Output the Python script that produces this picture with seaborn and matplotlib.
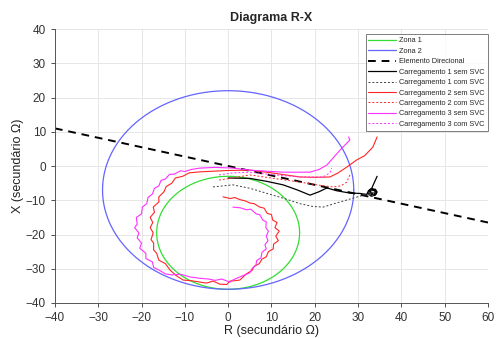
import numpy as np
import pandas as pd
import matplotlib
matplotlib.use("Agg")
import matplotlib.pyplot as plt
import seaborn as sns

# ---- data ----
zona1_center = (0.0, -19.5); zona1_radius = 16.5
zona2_center = (0.0, -7.0); zona2_radius = 29.0
dir_R = [-40, 60]
dir_X = [11.0, -16.5]

c1_sem_R = [0, 5, 9, 12.7, 16, 18.9, 21, 22.8, 25, 28.1, 30.4, 32, 32.4, 33.0, 34.0, 34.4, 34.0, 33.0, 32.3, 32.8, 33.8, 34.2, 33.4, 32.6, 33.2, 34.1, 33.6, 32.8, 33.5, 34.4]
c1_sem_X = [-3.5, -3.6, -4.5, -5.5, -7, -8.5, -7.5, -6.4, -7.2, -7.9, -8, -8.3, -7.2, -6.6, -6.8, -7.6, -8.5, -8.8, -8.0, -7.0, -7.0, -8.0, -8.6, -7.8, -6.9, -7.4, -8.4, -7.5, -5.5, -3.0]

c1_com_R = [-3.5, 1.1, 5, 9, 13, 16.6, 19.5, 21.9, 25, 28.8, 31, 32.5, 33.8, 33.2, 32.2, 33.0, 34.0, 33.4, 32.6]
c1_com_X = [-6.1, -5.5, -6.5, -8, -9.5, -11, -11.8, -12, -10.8, -9.4, -8.6, -8.2, -7.4, -8.9, -8.0, -7.0, -7.9, -8.6, -7.6]

c2_sem_R = [-1.2, 0.5, 1.5, 2.7, 4.0, 5.0, 6.0, 7.3, 8.3, 9.0, 10.0, 10.3, 11.3, 10.8, 11.8, 11.0, 11.6, 10.5, 10.4, 9.3, 8.8, 7.8, 7.2, 6.0, 5.5, 4.2, 2.7, 1.5, 0.4, -0.3, -1.9, -3.5, -5.0, -6.5, -8.5, -10.4, -12.0, -13.4, -14.5, -16.0, -16.5, -17.2, -17.2, -17.8, -17.3, -18.0, -17.4, -18.0, -17.0, -17.3, -16.0, -16.0, -14.8, -14.3, -13.0, -12.2, -10.5, -9.0, -6.5, 0, 5, 10, 16.6, 20, 23.5, 25.4, 27.4, 29.7, 31.5, 33.4, 34.4]
c2_sem_X = [-9.0, -9.5, -9.2, -9.8, -10.2, -10.8, -11.0, -12.0, -12.3, -13.8, -14.2, -15.8, -16.5, -18.0, -19.0, -20.5, -21.8, -22.8, -24.2, -25.0, -26.5, -27.2, -28.5, -29.3, -30.5, -31.5, -33.3, -33.5, -33.6, -34.6, -34.5, -33.6, -34.2, -33.9, -33.5, -33.3, -32.0, -30.4, -28.5, -27.5, -25.5, -24.5, -22.5, -21.5, -19.5, -18.0, -16.5, -15.0, -13.5, -12.0, -10.5, -9.0, -7.5, -6.0, -5.0, -3.5, -3.0, -2.0, -1.7, -1.3, -1.2, -2.0, -3.2, -3.3, -3.2, -2.0, -0.3, 1.8, 3.0, 5.5, 8.5]

c2_com_R = [-2.1, 1, 5, 10, 16.6, 21, 24.2, 26, 27.4, 28.1]
c2_com_X = [-4.1, -3.5, -2.6, -3.5, -4.7, -5.6, -6.1, -5.8, -4.7, -2.6]

c3_sem_R = [1.1, 2.8, 4.3, 5.2, 6.5, 7.3, 8.0, 8.8, 8.7, 9.3, 8.8, 9.2, 8.5, 8.8, 7.8, 7.6, 6.6, 6.4, 5.5, 5.0, 3.8, 2.5, 1.2, 0.4, -1.5, -3.0, -4.5, -6.5, -8.8, -11.0, -13.0, -14.5, -15.8, -17.2, -17.5, -19.0, -19.0, -20.4, -20.0, -21.0, -20.6, -21.6, -21.0, -21.2, -20.0, -19.8, -18.8, -18.5, -17.5, -17.0, -16.0, -15.5, -14.5, -13.5, -12.5, -11.0, -10.0, -8.5, -6.5, -3.0, 1.1, 5, 12.7, 18.9, 21.0, 22.8, 25.8, 28.1, 27.8]
c3_sem_X = [-12.0, -12.2, -12.8, -12.6, -14.0, -14.2, -15.8, -16.3, -18.0, -19.0, -20.5, -21.8, -23.0, -24.2, -25.2, -26.8, -27.6, -29.0, -30.0, -31.2, -31.8, -32.5, -33.2, -33.9, -33.0, -33.4, -33.0, -32.8, -32.4, -31.6, -31.8, -31.5, -30.5, -29.6, -28.0, -27.0, -25.5, -24.0, -22.5, -21.0, -19.5, -18.0, -17.0, -15.0, -14.0, -12.0, -11.0, -9.2, -8.2, -6.5, -5.8, -4.2, -3.8, -2.4, -2.4, -1.4, -1.6, -1.0, -0.6, -0.4, -0.6, -1.2, -1.8, -1.8, -1.0, 0.3, 4.6, 7.6, 8.5]

c3_com_R = [-2.1, 1, 5, 10, 16.6, 21.9, 23.5, 23.9]
c3_com_X = [-2.6, -2.0, -1.8, -2.5, -3.2, -3.2, -2.0, -0.6]

labels = ["Zona 1", "Zona 2", "Elemento Direcional",
          "Carregamento 1 sem SVC", "Carregamento 1 com SVC",
          "Carregamento 2 sem SVC", "Carregamento 2 com SVC",
          "Carregamento 3 sem SVC", "Carregamento 3 com SVC"]

# ---- plot ----
sns.set_style("whitegrid")
plt.rcParams['font.family'] = ['Liberation Sans', 'DejaVu Sans']

fig = plt.figure(figsize=(4.99, 3.38), dpi=100)
ax = fig.add_axes([0.110, 0.1036, 0.868, 0.8104])

def circle(c, r):
    t = np.linspace(0, 2 * np.pi, 361)
    return c[0] + r * np.cos(t), c[1] + r * np.sin(t)

def draw(R, X, color, ls, lw, label):
    df = pd.DataFrame({"R": R, "X": X})
    sns.lineplot(data=df, x="R", y="X", sort=False, estimator=None, ax=ax,
                 color=color, linestyle=ls, linewidth=lw, label=label)

zr, zx = circle(zona1_center, zona1_radius)
draw(zr, zx, "#33dd33", "-", 0.9, labels[0])
zr, zx = circle(zona2_center, zona2_radius)
draw(zr, zx, "#6464ff", "-", 0.9, labels[1])
draw(dir_R, dir_X, "black", (0, (4, 3)), 1.4, labels[2])
draw(c1_sem_R, c1_sem_X, "black", "-", 0.9, labels[3])
draw(c1_com_R, c1_com_X, "#404040", (0, (2, 2)), 0.7, labels[4])
draw(c2_sem_R, c2_sem_X, "#ff2525", "-", 0.8, labels[5])
draw(c2_com_R, c2_com_X, "#ff2525", (0, (2, 2)), 0.7, labels[6])
draw(c3_sem_R, c3_sem_X, "#ff30ff", "-", 0.8, labels[7])
draw(c3_com_R, c3_com_X, "#ff30ff", (0, (2, 2)), 0.7, labels[8])

ax.set_xlim(-40, 60)
ax.set_ylim(-40, 40)
ax.set_xticks(np.arange(-40, 61, 10))
ax.set_yticks(np.arange(-40, 41, 10))
ax.grid(True, color="#e6e6e6", linewidth=0.7)
for s in ["top", "right"]:
    ax.spines[s].set_visible(False)
for s in ["left", "bottom"]:
    ax.spines[s].set_color("#555555")
    ax.spines[s].set_linewidth(0.7)
ax.tick_params(axis="both", labelsize=8.5, colors="#333333", length=3, width=0.6,
               direction="out", left=True, bottom=True)
ax.set_xlabel("R (secundário Ω)", fontsize=9, color="#222222", labelpad=1)
ax.set_ylabel("X (secundário Ω)", fontsize=9, color="#222222", labelpad=1)
ax.set_title("Diagrama R-X", fontsize=9, fontweight="bold", pad=6)

leg = ax.legend(loc="upper right", bbox_to_anchor=(1.008, 0.995), fontsize=5.3,
                frameon=True, fancybox=False, handlelength=3.8, labelspacing=0.45,
                borderpad=0.4, handletextpad=0.4)
leg.get_frame().set_edgecolor("#444444")
leg.get_frame().set_linewidth(0.6)

fig.savefig("out.png", dpi=100)
